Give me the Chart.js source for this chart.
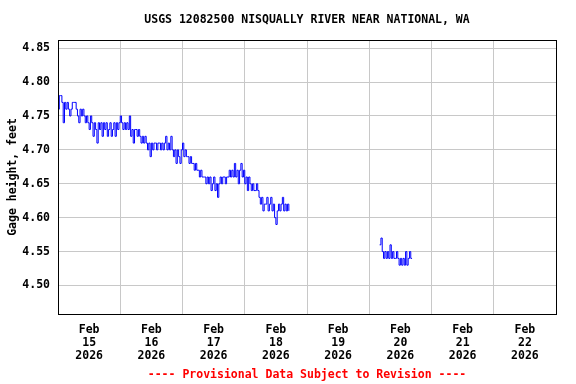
<!DOCTYPE html>
<html>
<head>
<meta charset="utf-8">
<script src="https://cdn.jsdelivr.net/npm/chart.js@4.4.0/dist/chart.umd.min.js"></script>
<style>
  html, body { margin: 0; padding: 0; background: #fff; }
  canvas { display: block; }
</style>
</head>
<body>
<canvas id="gage" width="576" height="384"></canvas>
<script>
// Gage height, feet, every 30 min. Hours are counted from Feb 15 00:00.
const feb14 = [ // from 12:00
  4.76, 4.78, 4.78, 4.77, 4.74, 4.77, 4.76, 4.77, 4.76, 4.75, 4.76, 4.77,
  4.77, 4.77, 4.76, 4.75, 4.74, 4.76, 4.75, 4.76, 4.75, 4.74, 4.75, 4.74];
const feb15 = [
  4.73, 4.75, 4.74, 4.72, 4.74, 4.73, 4.71, 4.74, 4.73, 4.74, 4.72, 4.74,
  4.73, 4.74, 4.72, 4.73, 4.74, 4.72, 4.73, 4.74, 4.72, 4.74, 4.73, 4.74,
  4.75, 4.74, 4.73, 4.74, 4.73, 4.74, 4.73, 4.75, 4.72, 4.73, 4.71, 4.73,
  4.73, 4.72, 4.73, 4.72, 4.71, 4.72, 4.71, 4.72, 4.71, 4.70, 4.71, 4.69];
const feb16 = [
  4.71, 4.70, 4.71, 4.71, 4.70, 4.71, 4.71, 4.70, 4.71, 4.70, 4.71, 4.72,
  4.70, 4.71, 4.70, 4.72, 4.70, 4.69, 4.70, 4.68, 4.70, 4.69, 4.68, 4.70,
  4.71, 4.69, 4.70, 4.69, 4.69, 4.68, 4.69, 4.68, 4.68, 4.67, 4.68, 4.67,
  4.67, 4.66, 4.67, 4.66, 4.66, 4.66, 4.65, 4.66, 4.65, 4.66, 4.64, 4.65];
const feb17 = [
  4.66, 4.64, 4.65, 4.63, 4.65, 4.66, 4.65, 4.66, 4.66, 4.65, 4.66, 4.66,
  4.67, 4.66, 4.67, 4.66, 4.68, 4.66, 4.67, 4.65, 4.67, 4.68, 4.66, 4.67,
  4.65, 4.66, 4.64, 4.66, 4.65, 4.64, 4.65, 4.64, 4.64, 4.65, 4.64, 4.63,
  4.62, 4.63, 4.61, 4.62, 4.62, 4.63, 4.61, 4.62, 4.63, 4.61, 4.62, 4.60];
const feb18 = [
  4.59, 4.61, 4.62, 4.61, 4.62, 4.63, 4.61, 4.62, 4.61, 4.62, 4.61];
const feb19 = [ // from 16:00
  4.56, 4.57, 4.55, 4.54, 4.55, 4.54, 4.55, 4.54, 4.56, 4.54, 4.55, 4.54,
  4.54, 4.55, 4.54, 4.53];
const feb20 = [
  4.54, 4.53, 4.54, 4.53, 4.55, 4.53, 4.54, 4.55, 4.54, 4.54];

const dayLabels = ['15', '16', '17', '18', '19', '20', '21', '22'];
const monthLabel = 'Feb';
const yearLabel = '2026';
const yTicks = [4.50, 4.55, 4.60, 4.65, 4.70, 4.75, 4.80, 4.85];

const FONT = "'DejaVu Sans Mono', monospace";

const toPoints = (vals, startHour) => vals.map((v, i) => ({ x: startHour + i * 0.5, y: v }));
const run1 = [].concat(
  toPoints(feb14, -12), toPoints(feb15, 0), toPoints(feb16, 24),
  toPoints(feb17, 48), toPoints(feb18, 72));
const run2 = [].concat(toPoints(feb19, 112), toPoints(feb20, 120));

// black box round the plot
const frame = {
  id: 'frame',
  afterDraw(chart) {
    const { ctx, chartArea: a } = chart;
    ctx.save();
    ctx.strokeStyle = '#000';
    ctx.lineWidth = 1;
    ctx.strokeRect(Math.round(a.left) + 0.5, Math.round(a.top) + 0.5,
      Math.round(a.right - a.left), Math.round(a.bottom - a.top));
    ctx.restore();
  },
};

// title and footer are centred on the plot, not on the canvas
const centerOnPlot = {
  id: 'centerOnPlot',
  afterLayout(chart) {
    const a = chart.chartArea;
    chart.boxes.forEach((b) => {
      if (!b.axis && b.options && typeof b.options.text === 'string') {
        b.left = a.left;
        b.right = a.right;
        b.width = a.right - a.left;
      }
    });
  },
};

const line = (data) => ({
  data, borderColor: '#0000ff', borderWidth: 1, pointRadius: 0,
  fill: false, stepped: true,
});

new Chart(document.getElementById('gage'), {
  type: 'line',
  data: { datasets: [line(run1), line(run2)] },
  plugins: [frame, centerOnPlot],
  options: {
    responsive: false,
    animation: false,
    parsing: false,
    layout: { padding: { left: 0, right: 20, top: 0, bottom: 0 } },
    plugins: {
      legend: { display: false },
      tooltip: { enabled: false },
      title: {
        display: true,
        text: 'USGS 12082500 NISQUALLY RIVER NEAR NATIONAL, WA',
        color: '#000',
        font: { family: FONT, size: 11.5, weight: 'bold', lineHeight: '14px' },
        padding: { top: 13, bottom: 13 },
      },
      subtitle: {
        display: true,
        position: 'bottom',
        text: '---- Provisional Data Subject to Revision ----',
        color: '#ff0000',
        font: { family: FONT, size: 11.5, weight: 'bold', lineHeight: '14px' },
        padding: { top: 2, bottom: 2 },
      },
    },
    scales: {
      x: {
        type: 'linear',
        min: -12,
        max: 180,
        border: { display: false },
        grid: {
          drawTicks: false,
          color: (c) => (c.tick && ((c.tick.value % 24) + 24) % 24 === 12 ? '#c8c8c8' : 'rgba(0,0,0,0)'),
        },
        afterBuildTicks: (s) => {
          const t = [];
          for (let h = -12; h <= 180; h += 12) t.push({ value: h });
          s.ticks = t;
        },
        afterFit: (s) => { s.height = 52; },
        ticks: {
          autoSkip: false,
          maxRotation: 0,
          padding: 10,
          color: '#000',
          font: { family: FONT, size: 11.5, weight: 'bold', lineHeight: '13px' },
          callback: (v) => (v % 24 === 0 && v >= 0 ? [monthLabel, dayLabels[v / 24], yearLabel] : ''),
        },
      },
      y: {
        min: 4.458,
        max: 4.862,
        border: { display: false },
        grid: { drawTicks: false, color: '#c8c8c8' },
        afterBuildTicks: (s) => { s.ticks = yTicks.map((v) => ({ value: v })); },
        afterFit: (s) => { s.width = 58; },
        ticks: {
          padding: 8,
          color: '#000',
          font: { family: FONT, size: 11.5, weight: 'bold' },
          callback: (v) => v.toFixed(2),
        },
        title: {
          display: true,
          text: 'Gage height, feet',
          color: '#000',
          font: { family: FONT, size: 11.5, weight: 'bold' },
          padding: { top: 6, bottom: 0 },
        },
      },
    },
  },
});
</script>
</body>
</html>
